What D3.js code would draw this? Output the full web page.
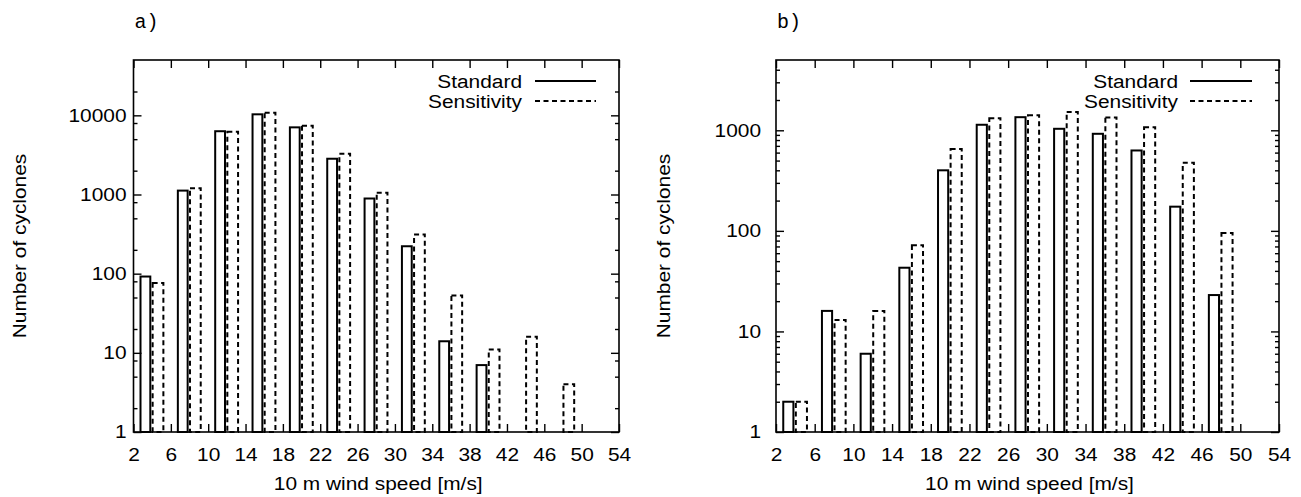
<!DOCTYPE html>
<html>
<head>
<meta charset="utf-8">
<script src="https://cdn.jsdelivr.net/npm/d3@7"></script>
<style>
  html, body { margin: 0; padding: 0; background: #fff; }
  svg { display: block; }
  text { font-family: "Liberation Sans", Arial, Helvetica, sans-serif; fill: #000; }
</style>
</head>
<body>
<svg id="chart" width="1301" height="497"></svg>
<script>
// ---- data ----
const binStarts = [2, 6, 10, 14, 18, 22, 26, 30, 34, 38, 42, 46, 50];
const xTickLabels = [2, 6, 10, 14, 18, 22, 26, 30, 34, 38, 42, 46, 50, 54];
const seriesNames = ["Standard", "Sensitivity"];
const panelAStandard    = [92, 1120, 6300, 10300, 7050, 2830, 890, 222, 14, 7, 0, 0, 0];
const panelASensitivity = [76, 1200, 6200, 10800, 7400, 3270, 1050, 312, 53, 11, 16, 4, 0];
const panelBStandard    = [2, 16, 6, 43, 400, 1135, 1350, 1035, 923, 630, 174, 23, 0];
const panelBSensitivity = [2, 13, 16, 72, 650, 1320, 1410, 1520, 1342, 1075, 477, 95, 0];
const panelAYTicks = [1, 10, 100, 1000, 10000];
const panelBYTicks = [1, 10, 100, 1000];
const panelLabels = ["a)", "b)"];
const xTitle = "10 m wind speed [m/s]";
const yTitle = "Number of cyclones";

const FS = 18;      // font size
const KX = 1.16;    // horizontal glyph stretch of the original rendering
const DASH = "5,3.5";
const svg = d3.select("#chart");

function stext(parent, x, y, str, anchor, rot) {
  return parent.append("text")
    .attr("transform", `translate(${x},${y})` + (rot ? ` rotate(${rot})` : "") + ` scale(${KX},1)`)
    .attr("text-anchor", anchor || "start")
    .style("font-size", FS + "px")
    .text(str);
}

function drawPanel(cfg) {
  const g = svg.append("g");
  const x = d3.scaleLinear().domain([2, 54]).range([cfg.left, cfg.right]);
  const y = d3.scaleLog().domain([1, cfg.yMax]).range([cfg.bottom, cfg.top]);

  const minor = [];
  for (let e = 0; e <= 5; e++) {
    cfg.minorMult.forEach(m => {
      const v = m * Math.pow(10, e);
      if (v > 1 && v < cfg.yMax) minor.push(v);
    });
  }

  const bars = g.append("g");
  const std = cfg.std, sen = cfg.sen;
  bars.selectAll("rect.std").data(binStarts).enter().append("rect")
    .attr("x", d => x(d + 0.75))
    .attr("width", d => x(d + 1.8) - x(d + 0.75))
    .attr("y", (d, i) => y(Math.max(1, std[i])))
    .attr("height", (d, i) => y(1) - y(Math.max(1, std[i])))
    .attr("fill", "none").attr("stroke", "#000").attr("stroke-width", 2);
  bars.selectAll("rect.sen").data(binStarts).enter().append("rect")
    .attr("x", d => x(d + 2.05))
    .attr("width", d => x(d + 3.2) - x(d + 2.05))
    .attr("y", (d, i) => y(Math.max(1, sen[i])))
    .attr("height", (d, i) => y(1) - y(Math.max(1, sen[i])))
    .attr("fill", "none").attr("stroke", "#000").attr("stroke-width", 2)
    .attr("stroke-dasharray", DASH);

  const axB = d3.axisBottom(x).tickValues(xTickLabels).tickSize(-8).tickPadding(16).tickFormat(d3.format("d"));
  const axT = d3.axisTop(x).tickValues(xTickLabels).tickSize(-8).tickFormat("");
  const axL = d3.axisLeft(y).tickValues(cfg.yTicks).tickSize(-8).tickPadding(cfg.yLabelGap).tickFormat(d3.format("d"));
  const axR = d3.axisRight(y).tickValues(cfg.yTicks).tickSize(-8).tickFormat("");
  const axLm = d3.axisLeft(y).tickValues(minor).tickSize(-4).tickFormat("");
  const axRm = d3.axisRight(y).tickValues(minor).tickSize(-4).tickFormat("");

  function style(sel) {
    sel.selectAll("path").attr("stroke", "none");
    sel.selectAll("line").attr("stroke", "#000").attr("stroke-width", 1.4);
    sel.selectAll("text").style("font-size", FS + "px").attr("fill", "#000")
      .style("font-family", '"Liberation Sans", Arial, sans-serif')
      .each(function () {
        const t = d3.select(this);
        const tx = +t.attr("x") || 0;
        t.attr("x", tx / KX).attr("transform", `scale(${KX},1)`);
      });
  }
  g.append("g").attr("transform", `translate(0,${cfg.bottom})`).call(axB).call(style);
  g.append("g").attr("transform", `translate(0,${cfg.top})`).call(axT).call(style);
  g.append("g").attr("transform", `translate(${cfg.left},0)`).call(axL).call(style);
  g.append("g").attr("transform", `translate(${cfg.right},0)`).call(axR).call(style);
  g.append("g").attr("transform", `translate(${cfg.left},0)`).call(axLm).call(style);
  g.append("g").attr("transform", `translate(${cfg.right},0)`).call(axRm).call(style);

  g.append("rect").attr("x", cfg.left).attr("y", cfg.top)
    .attr("width", cfg.right - cfg.left).attr("height", cfg.bottom - cfg.top)
    .attr("fill", "none").attr("stroke", "#000").attr("stroke-width", 1.6);

  // axis titles
  stext(g, (cfg.left + cfg.right) / 2 + 2, 490, xTitle, "middle");
  stext(g, cfg.yTitleX, (cfg.top + cfg.bottom) / 2, yTitle, "middle", -90);

  // panel label
  g.append("text").attr("x", cfg.left + 1).attr("y", 28)
    .style("font-family", '"Liberation Mono", "Courier New", monospace')
    .style("font-size", "20px").style("font-weight", "300").attr("fill", "#555").text(cfg.label);

  // legend
  seriesNames.forEach((name, i) => {
    const ly = cfg.top + 21 + i * 20;
    stext(g, cfg.right - cfg.lgText, ly + 6.5, name, "end");
    g.append("line").attr("x1", cfg.right - cfg.lgLine0).attr("x2", cfg.right - cfg.lgLine1)
      .attr("y1", ly).attr("y2", ly)
      .attr("stroke", "#000").attr("stroke-width", 2)
      .attr("stroke-dasharray", i === 1 ? DASH : null);
  });
}

drawPanel({ left: 133.5, right: 619, top: 60, bottom: 432, yMax: 50000,
  std: panelAStandard, sen: panelASensitivity, yTicks: panelAYTicks,
  minorMult: [2, 5, 8], yTitleX: 26, yLabelGap: 7, label: panelLabels[0],
  lgText: 97, lgLine0: 84, lgLine1: 23 });
drawPanel({ left: 776, right: 1279, top: 60, bottom: 432, yMax: 5000,
  std: panelBStandard, sen: panelBSensitivity, yTicks: panelBYTicks,
  minorMult: [2, 3, 4, 5, 6, 7, 8, 9], yTitleX: 670, yLabelGap: 15, label: panelLabels[1],
  lgText: 101, lgLine0: 89, lgLine1: 27 });
</script>
</body>
</html>
